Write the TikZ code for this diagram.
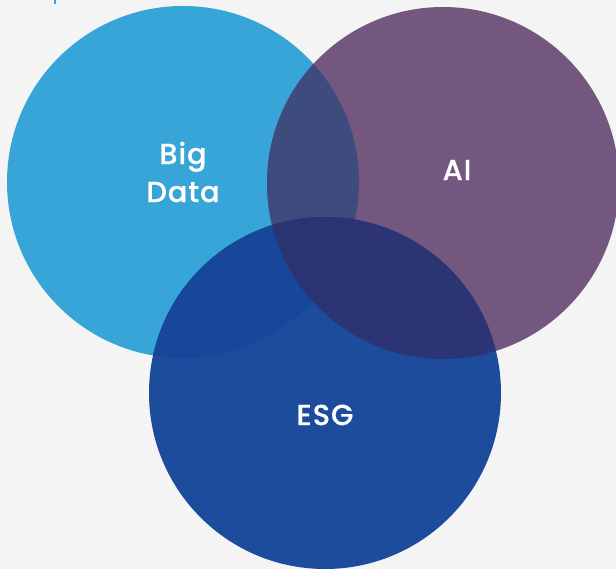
\documentclass[tikz,border=0pt]{standalone}
\usepackage{fontspec}
\usepackage{xcolor}
\usepackage{tikz}
\newfontfamily\labfont{Poppins Medium}[FakeBold=0.3,LetterSpace=3]
\definecolor{Paper}{HTML}{F4F4F4}
\definecolor{Sky}{HTML}{38A5D8}
\definecolor{Plum}{HTML}{74577F}
\definecolor{Royal}{HTML}{1E4C9C}
\definecolor{SkyPlum}{HTML}{3D4B7D}
\definecolor{SkyRoyal}{HTML}{16479A}
\definecolor{PlumRoyal}{HTML}{2D3474}
\definecolor{Core}{HTML}{2C3372}

\begin{document}
\begin{tikzpicture}[x=1pt,y=-1pt,
  every node/.style={font=\labfont\fontsize{29}{38}\selectfont,text=white,align=center},
  disc/.style={circle,minimum size=352pt,inner sep=0pt,draw=none}
]
\fill[Paper] (0,0) rectangle (616,569);
\useasboundingbox (0,0) rectangle (616,569);
\draw[Sky,line width=1.6pt] (55,0) -- (55,4);

% the three sets
\node[disc,fill=Sky] (bigdata) at (183,182) {};
\node[disc,fill=Plum] (ai) at (443,183) {};
\node[disc,fill=Royal] (esg) at (325,393) {};

% pairwise overlaps
\begin{scope}
  \clip (bigdata.center) circle (176pt);
  \fill[SkyPlum] (ai.center) circle (176pt);
\end{scope}
\begin{scope}
  \clip (bigdata.center) circle (176pt);
  \fill[SkyRoyal] (esg.center) circle (176pt);
\end{scope}
\begin{scope}
  \clip (ai.center) circle (176pt);
  \fill[PlumRoyal] (esg.center) circle (176pt);
\end{scope}
% all three
\begin{scope}
  \clip (bigdata.center) circle (176pt);
  \clip (ai.center) circle (176pt);
  \fill[Core] (esg.center) circle (176pt);
\end{scope}

\node (bigdatalab) at (183,172) {Big\\Data};
\node (ailab) at (457,170) {AI};
\node (esglab) at (325,415) {ESG};
\end{tikzpicture}
\end{document}
